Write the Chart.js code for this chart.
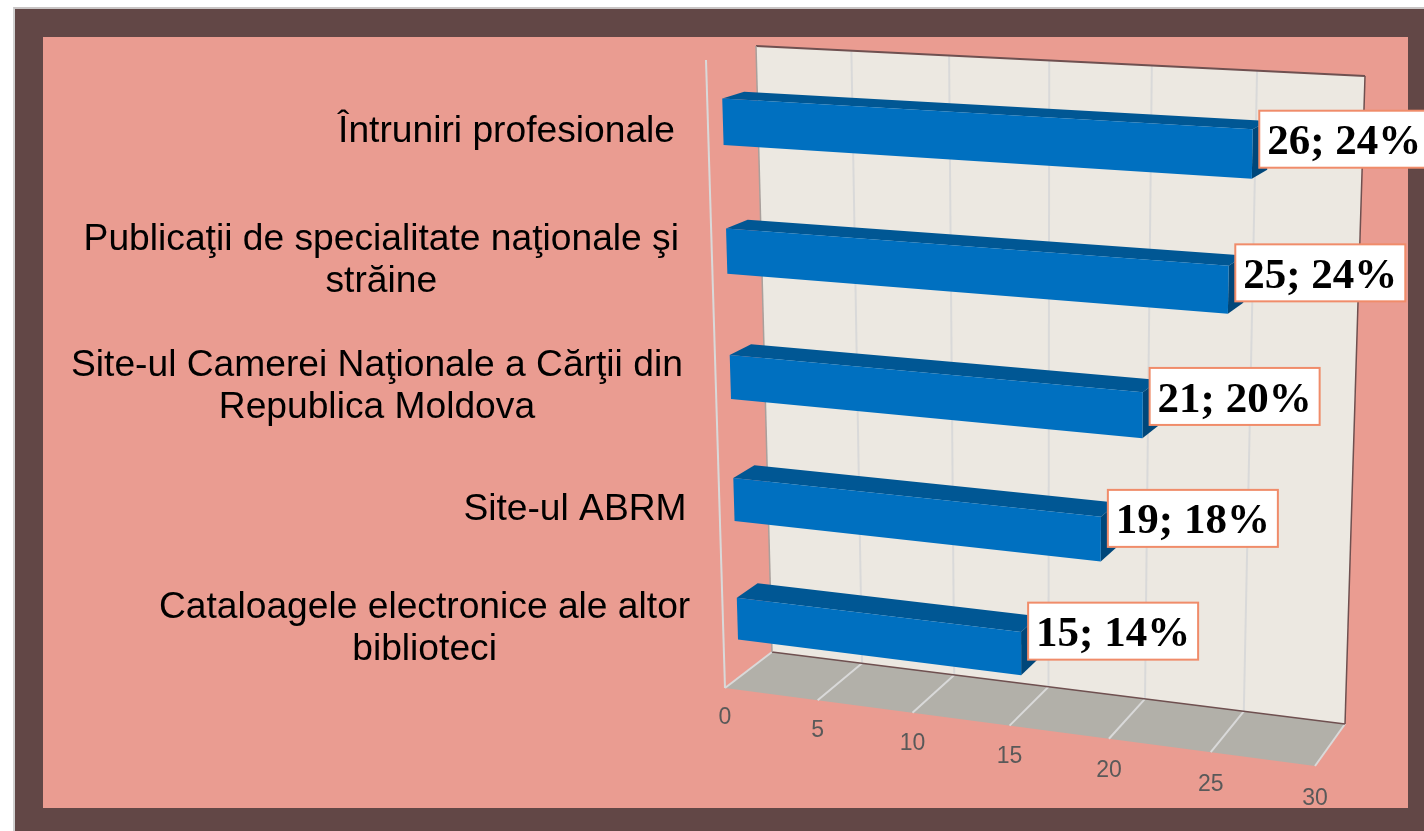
<!DOCTYPE html>
<html>
<head>
<meta charset="utf-8">
<style>
  html, body { margin: 0; padding: 0; background: #fff; width: 1424px; height: 831px; overflow: hidden; }
  #frame { position: absolute; left: 13px; top: 7px; width: 1409px; height: 822px; background: #624746; border-left: 2px solid #d0d0d0; border-top: 2px solid #c8c4c4; }
  #panel { position: absolute; left: 43px; top: 37px; width: 1365px; height: 771px; background: #ea9c91; }
  canvas { position: absolute; left: 0; top: 0; }
</style>
</head>
<body>
<div id="frame"></div>
<div id="panel"></div>
<canvas id="chart" width="1424" height="831"></canvas>
<script src="https://cdn.jsdelivr.net/npm/chart.js"></script>
<script>
  const categories = [
    ['Întruniri profesionale'],
    ['Publicaţii de specialitate naţionale şi', 'străine'],
    ['Site-ul Camerei Naţionale a Cărţii din', 'Republica Moldova'],
    ['Site-ul ABRM'],
    ['Cataloagele electronice ale altor', 'biblioteci']
  ];
  const values = [26, 25, 21, 19, 15];
  const percents = [24, 24, 20, 18, 14];
  const axisMax = 30;
  const axisStep = 5;

  // corners of the front and back planes of the 3D box, clockwise from top left
  const frontQuad = [[706, 60], [1332, 94], [1315, 766], [725, 688]];
  const backQuad = [[756, 46], [1365, 76], [1345, 724], [772, 652]];
  const barNear = 0.3;
  const barFar = 0.74;
  const rowBulge = 0.01;

  function quadMatrix(q) {
    const [[x0, y0], [x1, y1], [x2, y2], [x3, y3]] = q;
    const dx1 = x1 - x2, dx2 = x3 - x2, sx = x0 - x1 + x2 - x3;
    const dy1 = y1 - y2, dy2 = y3 - y2, sy = y0 - y1 + y2 - y3;
    const den = dx1 * dy2 - dx2 * dy1;
    const g = (sx * dy2 - dx2 * sy) / den;
    const h = (dx1 * sy - sx * dy1) / den;
    return { a: x1 - x0 + g * x1, b: x3 - x0 + h * x3, c: x0, d: y1 - y0 + g * y1, e: y3 - y0 + h * y3, f: y0, g, h };
  }
  const frontM = quadMatrix(frontQuad);
  const backM = quadMatrix(backQuad);

  function applyM(m, u, v) {
    const w = m.g * u + m.h * v + 1;
    return [(m.a * u + m.b * v + m.c) / w, (m.d * u + m.e * v + m.f) / w];
  }

  // u and v are 0..1 along the chart scales, depth 0 is front and 1 is back wall
  function project(u, v, depth) {
    const vv = v + rowBulge * v * (1 - v);
    const p = applyM(frontM, u, vv);
    const q = applyM(backM, u, vv);
    return [p[0] + (q[0] - p[0]) * depth, p[1] + (q[1] - p[1]) * depth];
  }

  function fillPoly(ctx, pts, color) {
    ctx.beginPath();
    pts.forEach((p, i) => i ? ctx.lineTo(p[0], p[1]) : ctx.moveTo(p[0], p[1]));
    ctx.closePath();
    ctx.fillStyle = color;
    ctx.fill();
  }

  function strokeLine(ctx, a, b, color, width) {
    ctx.beginPath();
    ctx.moveTo(a[0], a[1]);
    ctx.lineTo(b[0], b[1]);
    ctx.strokeStyle = color;
    ctx.lineWidth = width;
    ctx.stroke();
  }

  const box3d = {
    id: 'box3d',
    beforeDatasetsDraw(chart) {
      const ctx = chart.ctx;
      const x = chart.scales.x;
      const tickU = t => (x.getPixelForValue(t.value) - x.left) / x.width;
      ctx.save();
      // back wall and floor
      fillPoly(ctx, [project(0, 0, 1), project(1, 0, 1), project(1, 1, 1), project(0, 1, 1)], '#ece8e1');
      fillPoly(ctx, [project(0, 1, 0), project(1, 1, 0), project(1, 1, 1), project(0, 1, 1)], '#b2b0a9');

      x.ticks.forEach(t => {
        const u = tickU(t);
        if (u > 0 && u < 1) strokeLine(ctx, project(u, 0, 1), project(u, 1, 1), '#d9d9d9', 2);
        strokeLine(ctx, project(u, 1, 0), project(u, 1, 1), '#d9d9d9', 2);
      });

      strokeLine(ctx, project(0, 0, 1), project(1, 0, 1), '#6f5050', 2);
      strokeLine(ctx, project(1, 0, 1), project(1, 1, 1), '#6f5050', 1.5);
      strokeLine(ctx, project(0, 1, 1), project(1, 1, 1), '#6f5050', 1.5);
      strokeLine(ctx, project(0, 0, 1), project(0, 1, 1), '#a9a09c', 1.5);
      strokeLine(ctx, project(0, 0, 0), project(0, 1, 0), '#d9d9d9', 2);

      // value ticks below the floor
      ctx.fillStyle = '#595959';
      ctx.font = '23px "Liberation Sans"';
      ctx.textAlign = 'center';
      ctx.textBaseline = 'middle';
      x.ticks.forEach(t => {
        const u = tickU(t);
        const p = project(u, 1, 0);
        ctx.fillText(String(t.value), p[0], p[1] + 30 + 3 * u);
      });

      // category labels, lines centred in a block that ends near the axis
      const y = chart.scales.y;
      ctx.fillStyle = '#000';
      ctx.font = '37.2px "Liberation Sans"';
      categories.forEach((lines, i) => {
        const v = (y.getPixelForValue(i) - y.top) / y.height;
        const p = project(0, v, barNear);
        const axisX = project(0, v, 0)[0];
        const w = Math.max(...lines.map(s => ctx.measureText(s).width));
        const cx = axisX - 33 - w / 2;
        lines.forEach((s, k) => {
          ctx.fillText(s, cx, p[1] + 10 + (k - (lines.length - 1) / 2) * 42);
        });
      });
      ctx.restore();
    },
    afterDatasetsDraw(chart) {
      const ctx = chart.ctx;
      const x = chart.scales.x;
      const y = chart.scales.y;
      const bars = chart.getDatasetMeta(0).data;
      const toU = px => (px - x.left) / x.width;
      const toV = px => (px - y.top) / y.height;
      ctx.save();
      bars.forEach(bar => {
        const u0 = toU(bar.base);
        const u1 = toU(bar.x);
        const v0 = toV(bar.y - bar.height / 2);
        const v1 = toV(bar.y + bar.height / 2);
        fillPoly(ctx, [project(u0, v0, barNear), project(u1, v0, barNear), project(u1, v0, barFar), project(u0, v0, barFar)], '#005794');
        fillPoly(ctx, [project(u1, v0, barNear), project(u1, v0, barFar), project(u1, v1, barFar), project(u1, v1, barNear)], '#00477a');
        fillPoly(ctx, [project(u0, v0, barNear), project(u1, v0, barNear), project(u1, v1, barNear), project(u0, v1, barNear)], '#0070c0');
      });
      // value; percent boxes
      ctx.font = 'bold 43px "Liberation Serif"';
      ctx.textAlign = 'center';
      ctx.textBaseline = 'middle';
      bars.forEach((bar, i) => {
        const u1 = toU(bar.x);
        const v = toV(bar.y);
        const left = project(u1, v, barNear)[0] + 7;
        const cy = project(u1, v, 0.75)[1] - 6;
        ctx.fillStyle = '#fff';
        ctx.strokeStyle = '#f08c6a';
        ctx.lineWidth = 2;
        ctx.fillRect(left, cy - 28.5, 170, 57);
        ctx.strokeRect(left, cy - 28.5, 170, 57);
        ctx.fillStyle = '#000';
        ctx.fillText(values[i] + '; ' + percents[i] + '%', left + 85, cy + 4);
      });
      ctx.restore();
    }
  };

  new Chart(document.getElementById('chart'), {
    type: 'bar',
    data: {
      labels: categories,
      datasets: [{
        data: values,
        backgroundColor: 'transparent',
        barPercentage: 0.355,
        categoryPercentage: 1
      }]
    },
    options: {
      indexAxis: 'y',
      responsive: false,
      animation: false,
      plugins: { legend: { display: false }, tooltip: { enabled: false } },
      scales: {
        x: { display: false, min: 0, max: axisMax, ticks: { stepSize: axisStep } },
        y: { display: false }
      }
    },
    plugins: [box3d]
  });
</script>
</body>
</html>
